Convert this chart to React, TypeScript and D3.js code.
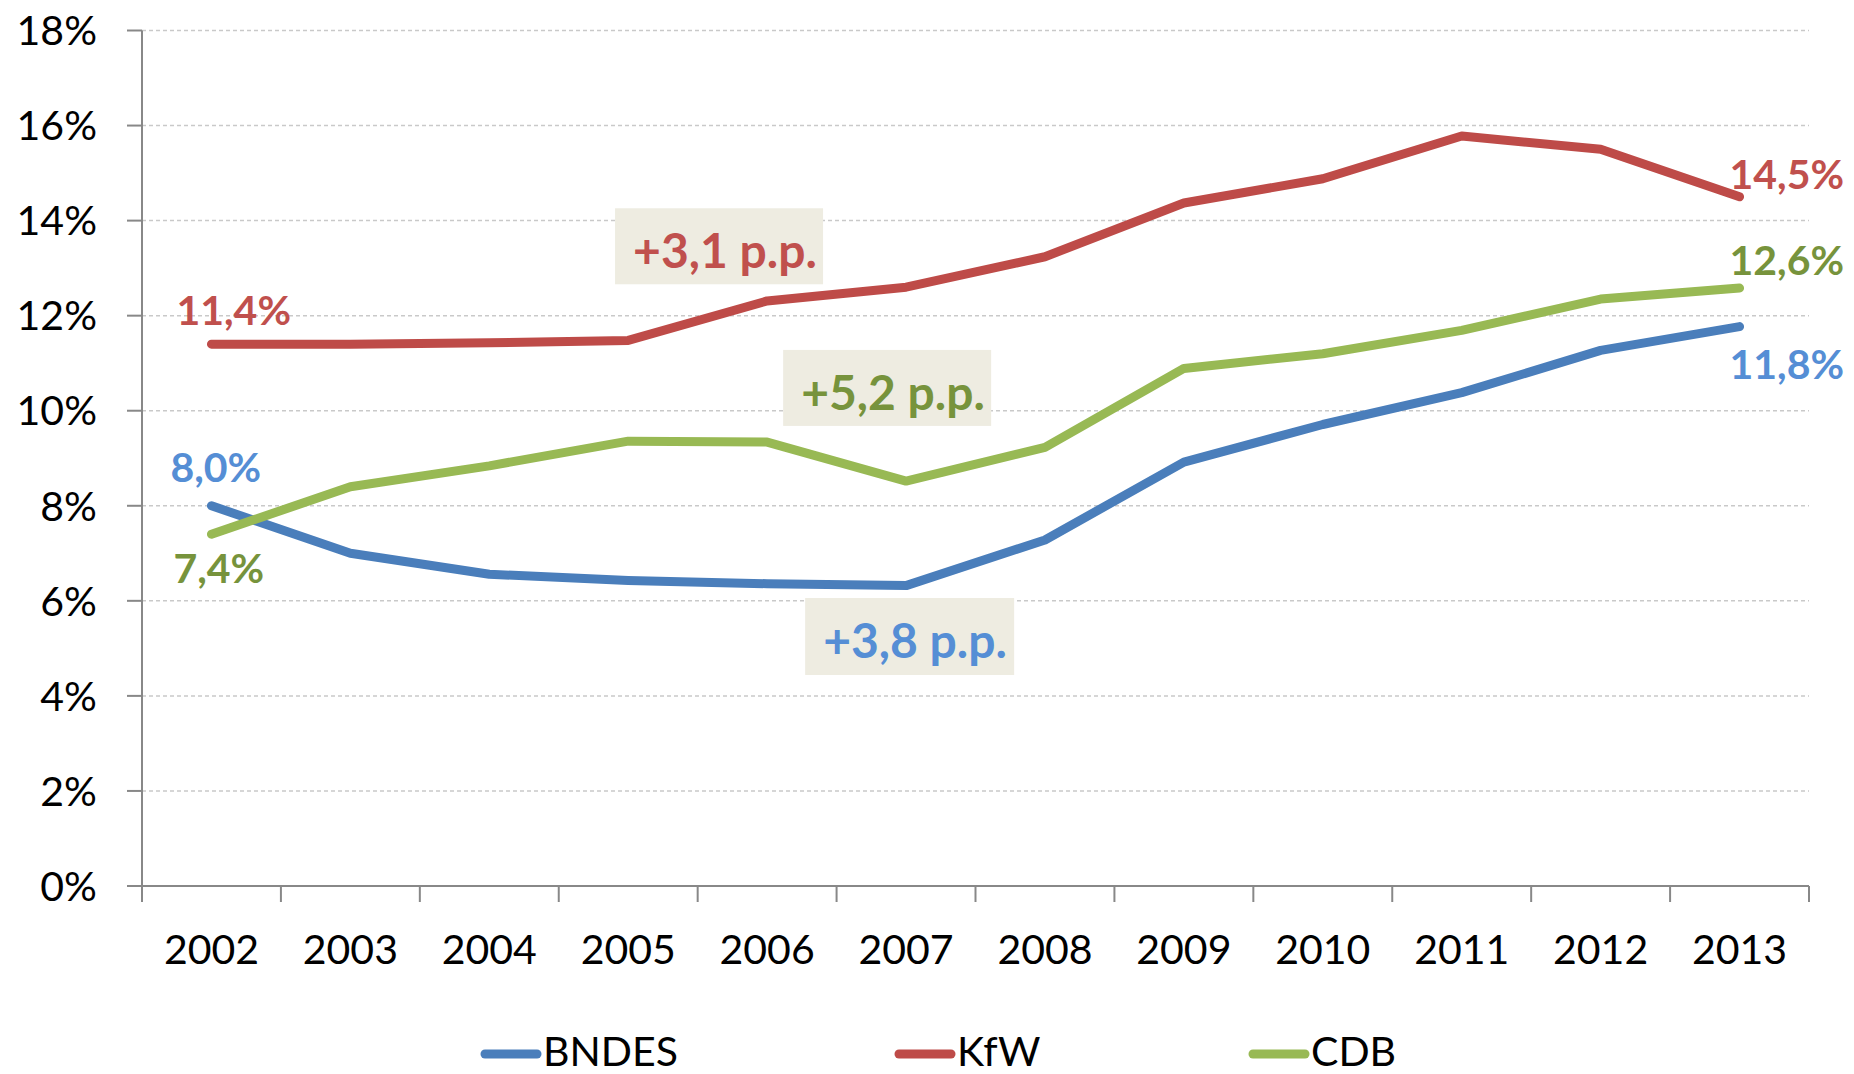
import React from 'react';
import * as d3 from 'd3';

const years = ['2002', '2003', '2004', '2005', '2006', '2007', '2008', '2009', '2010', '2011', '2012', '2013'];
const bndes = [8.0, 7.0, 6.56, 6.43, 6.36, 6.32, 7.28, 8.92, 9.71, 10.38, 11.27, 11.77];
const kfw = [11.4, 11.4, 11.43, 11.48, 12.31, 12.6, 13.24, 14.37, 14.88, 15.78, 15.5, 14.5];
const cdb = [7.4, 8.4, 8.84, 9.36, 9.34, 8.52, 9.23, 10.89, 11.2, 11.69, 12.35, 12.58];
const yTicks = [0, 2, 4, 6, 8, 10, 12, 14, 16, 18];
const seriesNames = ['BNDES', 'KfW', 'CDB'];
const startLabels = ['8,0%', '11,4%', '7,4%'];
const endLabels = ['11,8%', '14,5%', '12,6%'];
const gainLabels = ['+3,8 p.p.', '+3,1 p.p.', '+5,2 p.p.'];

const W = 1854;
const H = 1074;
const FONT = 'Lato, "Open Sans", sans-serif';

const lineColors = ['#4A7EBB', '#BE4B48', '#98B954'];
const textColors = ['#558ED5', '#C0504D', '#77933C'];

export default function App() {
  const x = d3.scaleBand<string>().domain(years).range([142, 1809]).padding(0);
  const bw = x.bandwidth();
  const cx = (yr: string) => (x(yr) as number) + bw / 2;
  const y = d3.scaleLinear().domain([0, 18]).range([886, 30.5]);

  const series = [bndes, kfw, cdb];
  const line = d3
    .line<number>()
    .x((_, i) => cx(years[i]))
    .y((d) => y(d));

  // label placement offsets (layout)
  const startOff = [
    { dx: -41, dy: -24 },
    { dx: -35, dy: -19 },
    { dx: -38, dy: 49 },
  ];
  const endOff = [
    { dx: -10, dy: 52 },
    { dx: -10, dy: -8 },
    { dx: -10, dy: -13 },
  ];
  // annotation boxes: anchored to category position (band index units) and value
  const boxes = [
    { pos: 5.526, val: 5.25, w: 209, h: 77 },
    { pos: 4.154, val: 13.46, w: 208, h: 76 },
    { pos: 5.364, val: 10.48, w: 208, h: 76 },
  ];
  const xAt = (p: number) => 142 + p * bw;

  const legendX = [485, 899, 1253];

  return (
    <svg
      width={W}
      height={H}
      style={{ position: 'absolute', left: 0, top: 0, display: 'block', background: '#fff' }}
      fontFamily={FONT}
    >
      {/* gridlines */}
      {yTicks.map((t) => (
        <line
          key={'g' + t}
          x1={142}
          x2={1809}
          y1={y(t)}
          y2={y(t)}
          stroke="#C9C9C9"
          strokeWidth={1.5}
          strokeDasharray={t === 0 ? undefined : '4 3'}
        />
      ))}
      {/* y axis */}
      <line x1={142} x2={142} y1={y(18)} y2={y(0) + 16} stroke="#888" strokeWidth={2} />
      {yTicks.map((t) => (
        <line key={'yt' + t} x1={127} x2={142} y1={y(t)} y2={y(t)} stroke="#888" strokeWidth={2} />
      ))}
      {yTicks.map((t) => (
        <text key={'yl' + t} x={97} y={y(t)} dy="0.36em" textAnchor="end" fontSize={41} fill="#000">
          {t + '%'}
        </text>
      ))}
      {/* x axis */}
      <line x1={127} x2={1809} y1={y(0)} y2={y(0)} stroke="#888" strokeWidth={2} />
      {years.map((yr) => (
        <line
          key={'xt' + yr}
          x1={(x(yr) as number) + bw}
          x2={(x(yr) as number) + bw}
          y1={y(0)}
          y2={y(0) + 16}
          stroke="#888"
          strokeWidth={2}
        />
      ))}
      {years.map((yr) => (
        <text key={'xl' + yr} x={cx(yr)} y={964} textAnchor="middle" fontSize={41} fill="#000">
          {yr}
        </text>
      ))}

      {/* annotation boxes */}
      {boxes.map((b, i) => (
        <g key={'box' + i}>
          <rect x={xAt(b.pos) - b.w / 2} y={y(b.val) - b.h / 2} width={b.w} height={b.h} fill="#EEECE1" />
        </g>
      ))}

      {/* lines */}
      {series.map((s, i) => (
        <path
          key={'s' + i}
          d={line(s) as string}
          fill="none"
          stroke={lineColors[i]}
          strokeWidth={9}
          strokeLinecap="round"
          strokeLinejoin="round"
        />
      ))}

      {/* annotation texts */}
      {boxes.map((b, i) => (
        <text
          key={'bt' + i}
          x={xAt(b.pos) - b.w / 2 + 18}
          y={y(b.val) + 22}
          fontSize={48}
          fontWeight={700}
          fill={textColors[i]}
        >
          {gainLabels[i]}
        </text>
      ))}

      {/* start / end labels */}
      {series.map((s, i) => (
        <text
          key={'sl' + i}
          x={cx(years[0]) + startOff[i].dx}
          y={y(s[0]) + startOff[i].dy}
          fontSize={41}
          fontWeight={700}
          fill={textColors[i]}
        >
          {startLabels[i]}
        </text>
      ))}
      {series.map((s, i) => (
        <text
          key={'el' + i}
          x={cx(years[years.length - 1]) + endOff[i].dx}
          y={y(s[s.length - 1]) + endOff[i].dy}
          fontSize={41}
          fontWeight={700}
          fill={textColors[i]}
        >
          {endLabels[i]}
        </text>
      ))}

      {/* legend */}
      {seriesNames.map((n, i) => (
        <g key={'lg' + n}>
          <line
            x1={legendX[i]}
            x2={legendX[i] + 52}
            y1={1054}
            y2={1054}
            stroke={lineColors[i]}
            strokeWidth={9}
            strokeLinecap="round"
          />
          <text x={legendX[i] + 58} y={1066} fontSize={41} fill="#000">
            {n}
          </text>
        </g>
      ))}
    </svg>
  );
}
